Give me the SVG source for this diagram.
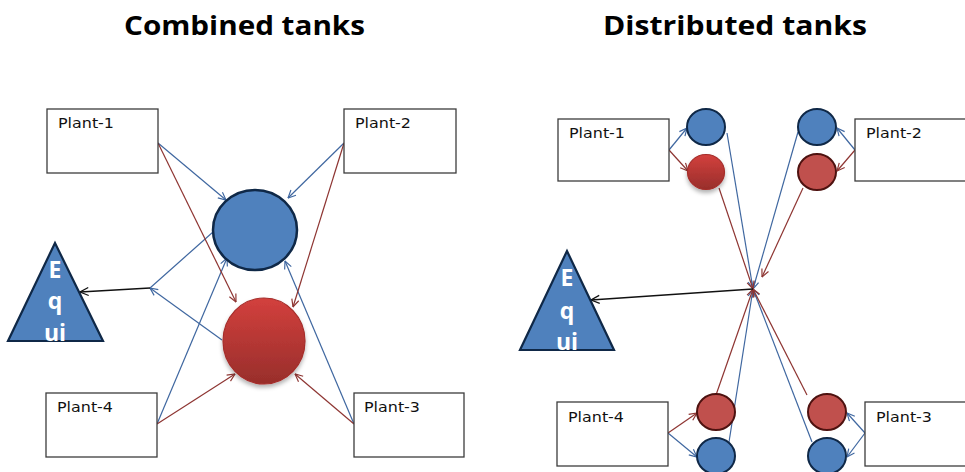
<svg xmlns="http://www.w3.org/2000/svg" width="965" height="472" viewBox="0 0 965 472">
<defs>
<marker id="ab" viewBox="0 0 10 10" refX="9.5" refY="5" markerWidth="9" markerHeight="9" markerUnits="userSpaceOnUse" orient="auto"><path d="M1,1 L9.5,5 L1,9" fill="none" stroke="#3f67a0" stroke-width="1.3"/></marker>
<marker id="ar" viewBox="0 0 10 10" refX="9.5" refY="5" markerWidth="9" markerHeight="9" markerUnits="userSpaceOnUse" orient="auto"><path d="M1,1 L9.5,5 L1,9" fill="none" stroke="#8e3532" stroke-width="1.3"/></marker>
<marker id="ak" viewBox="0 0 10 10" refX="9.5" refY="5" markerWidth="10" markerHeight="10" markerUnits="userSpaceOnUse" orient="auto"><path d="M1,1 L9.5,5 L1,9" fill="none" stroke="#111" stroke-width="1.3"/></marker>
<linearGradient id="rg" x1="0" y1="0" x2="0" y2="1"><stop offset="0" stop-color="#d3403d"/><stop offset="1" stop-color="#982e2b"/></linearGradient>
<filter id="sh" x="-30%" y="-30%" width="160%" height="170%"><feDropShadow dx="0" dy="3" stdDeviation="2" flood-color="#000" flood-opacity="0.3"/></filter>
</defs>
<style>
.t{font-family:"Open Sans","Liberation Sans",sans-serif;font-weight:bold;font-size:27px;fill:#000}
.p{font-family:"DejaVu Sans","Liberation Sans",sans-serif;font-size:14px;fill:#111}
.box{fill:#fff;stroke:#3c3c3c;stroke-width:1.3}
.bc{fill:#4f81bd;stroke:#0f2847;stroke-width:2.5}
.bcs{fill:#4f81bd;stroke:#0f2847;stroke-width:2}
.rc{fill:url(#rg);stroke:#a52d2a;stroke-width:1.2}
.rcf{fill:#c0504d;stroke:#4e1210;stroke-width:2}
.tri{fill:#4f81bd;stroke:#0f2847;stroke-width:2.2}
.eq{font-family:"Open Sans","Liberation Sans",sans-serif;font-weight:bold;font-size:23px;fill:#fff;text-anchor:middle}
.lb{stroke:#3f67a0;stroke-width:1.2;fill:none}
.lr{stroke:#8e3532;stroke-width:1.2;fill:none}
.lk{stroke:#111;stroke-width:1.5;fill:none}
</style>

<text class="t" x="124" y="35" textLength="241" lengthAdjust="spacingAndGlyphs">Combined tanks</text>
<text class="t" x="603" y="35" textLength="264" lengthAdjust="spacingAndGlyphs">Distributed tanks</text>

<g id="connectors">
<g id="left-connectors">
<line class="lb" x1="158" y1="143" x2="226" y2="200" marker-end="url(#ab)"/>
<line class="lb" x1="344" y1="143" x2="288" y2="198" marker-end="url(#ab)"/>
<line class="lb" x1="157" y1="424" x2="227" y2="258" marker-end="url(#ab)"/>
<line class="lb" x1="354" y1="424" x2="285" y2="261" marker-end="url(#ab)"/>
<line class="lb" x1="213" y1="232" x2="150" y2="288"/>
<line class="lb" x1="222" y1="340" x2="150" y2="288" marker-end="url(#ab)"/>
<line class="lr" x1="158" y1="143" x2="236" y2="302" marker-end="url(#ar)"/>
<line class="lr" x1="344" y1="143" x2="293" y2="307" marker-end="url(#ar)"/>
<line class="lr" x1="157" y1="424" x2="235" y2="374" marker-end="url(#ar)"/>
<line class="lr" x1="354" y1="424" x2="295" y2="374" marker-end="url(#ar)"/>
<line class="lk" x1="150" y1="288" x2="80" y2="292" marker-end="url(#ak)"/>
</g>
<g id="right-connectors">
<line class="lb" x1="669" y1="150" x2="687" y2="128" marker-end="url(#ab)"/>
<line class="lb" x1="855" y1="150" x2="837" y2="128" marker-end="url(#ab)"/>
<line class="lb" x1="668" y1="433" x2="697" y2="457" marker-end="url(#ab)"/>
<line class="lb" x1="865" y1="433" x2="847" y2="413" marker-end="url(#ab)"/>
<line class="lb" x1="865" y1="433" x2="847" y2="457" marker-end="url(#ab)"/>
<line class="lb" x1="727" y1="133" x2="753" y2="289" marker-end="url(#ab)"/>
<line class="lb" x1="798" y1="132" x2="753" y2="289" marker-end="url(#ab)"/>
<line class="lb" x1="729" y1="442" x2="753" y2="289" marker-end="url(#ab)"/>
<line class="lb" x1="812" y1="442" x2="753" y2="289" marker-end="url(#ab)"/>
<line class="lr" x1="669" y1="150" x2="688" y2="171" marker-end="url(#ar)"/>
<line class="lr" x1="855" y1="150" x2="837" y2="171" marker-end="url(#ar)"/>
<line class="lr" x1="668" y1="433" x2="697" y2="413" marker-end="url(#ar)"/>
<line class="lr" x1="719" y1="188" x2="753" y2="289" marker-end="url(#ar)"/>
<line class="lr" x1="803" y1="188" x2="762" y2="277" marker-end="url(#ar)"/>
<line class="lr" x1="716" y1="395" x2="753" y2="289" marker-end="url(#ar)"/>
<line class="lr" x1="807" y1="395" x2="753" y2="289" marker-end="url(#ar)"/>
<line class="lk" x1="753" y1="289" x2="591" y2="300" marker-end="url(#ak)"/>
</g>
</g>

<g id="L-plant1"><rect class="box" x="47" y="109" width="111" height="64"/><text class="p" x="58" y="128" textLength="56" lengthAdjust="spacingAndGlyphs">Plant-1</text></g>
<g id="L-plant2"><rect class="box" x="344" y="109" width="112" height="64"/><text class="p" x="355" y="128" textLength="56" lengthAdjust="spacingAndGlyphs">Plant-2</text></g>
<g id="L-plant4"><rect class="box" x="46" y="393" width="111" height="64"/><text class="p" x="57" y="412" textLength="56" lengthAdjust="spacingAndGlyphs">Plant-4</text></g>
<g id="L-plant3"><rect class="box" x="354" y="393" width="110" height="64"/><text class="p" x="364" y="412" textLength="56" lengthAdjust="spacingAndGlyphs">Plant-3</text></g>
<g id="L-blue-tank"><ellipse class="bc" cx="255" cy="230" rx="42" ry="40"/></g>
<g id="L-red-tank"><ellipse class="rc" cx="264" cy="341" rx="41" ry="43" filter="url(#sh)"/></g>
<g id="L-equi"><polygon class="tri" points="55,243 8,341 103,341"/><text class="eq" x="55" y="278">E</text><text class="eq" x="55" y="309">q</text><text class="eq" x="55" y="341">ui</text></g>

<g id="R-plant1"><rect class="box" x="558" y="119" width="111" height="62"/><text class="p" x="569" y="138" textLength="56" lengthAdjust="spacingAndGlyphs">Plant-1</text></g>
<g id="R-plant2"><rect class="box" x="855" y="119" width="115" height="62"/><text class="p" x="866" y="138" textLength="56" lengthAdjust="spacingAndGlyphs">Plant-2</text></g>
<g id="R-plant4"><rect class="box" x="557" y="402" width="111" height="64"/><text class="p" x="568" y="422" textLength="56" lengthAdjust="spacingAndGlyphs">Plant-4</text></g>
<g id="R-plant3"><rect class="box" x="865" y="402" width="105" height="64"/><text class="p" x="876" y="422" textLength="56" lengthAdjust="spacingAndGlyphs">Plant-3</text></g>
<g id="R-blue-tl"><ellipse class="bcs" cx="706" cy="127" rx="19" ry="18"/></g>
<g id="R-red-tl"><ellipse class="rc" cx="706" cy="172" rx="18.5" ry="17.5" filter="url(#sh)"/></g>
<g id="R-blue-tr"><ellipse class="bcs" cx="817" cy="127" rx="19" ry="18"/></g>
<g id="R-red-tr"><ellipse class="rcf" cx="817" cy="172" rx="19" ry="18"/></g>
<g id="R-red-bl"><ellipse class="rcf" cx="716" cy="412" rx="19" ry="18"/></g>
<g id="R-blue-bl"><ellipse class="bcs" cx="716" cy="456" rx="19" ry="18"/></g>
<g id="R-red-br"><ellipse class="rcf" cx="827" cy="412" rx="19" ry="18"/></g>
<g id="R-blue-br"><ellipse class="bcs" cx="827" cy="456" rx="19" ry="18"/></g>
<g id="R-equi"><polygon class="tri" points="567,251 520,350 614,350"/><text class="eq" x="567" y="286">E</text><text class="eq" x="567" y="319">q</text><text class="eq" x="567" y="350">ui</text></g>
</svg>
